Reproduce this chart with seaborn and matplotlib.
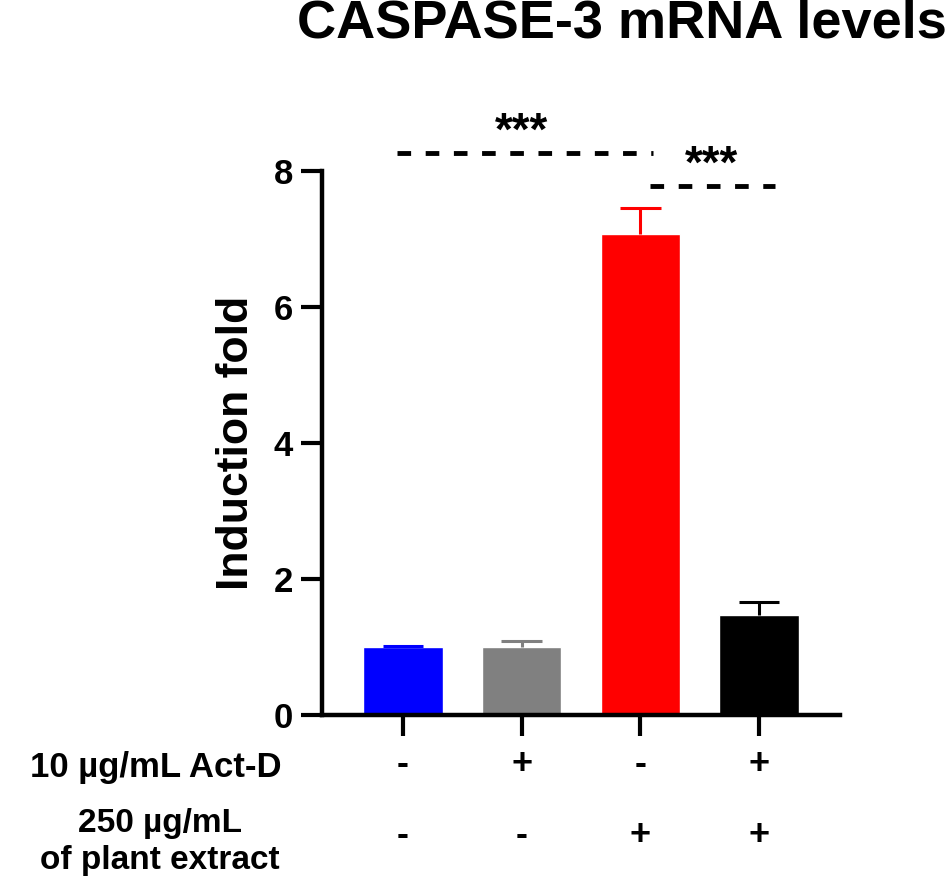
import matplotlib
matplotlib.use("Agg")
import matplotlib.pyplot as plt
import seaborn as sns
import pandas as pd

groups = ["Control", "Act-D", "Extract", "Act-D + Extract"]
means = [1.0, 1.0, 7.07, 1.47]
sems = [0.01, 0.09, 0.39, 0.19]
colors = ["#0000ff", "#808080", "#ff0000", "#000000"]
actd_row = ["-", "+", "-", "+"]
extract_row = ["-", "-", "+", "+"]
sig_pairs = [(0, 2, 8.26), (2, 3, 7.78)]
sig_labels = ["***", "***"]
yticks = [0, 2, 4, 6, 8]

sns.set_theme(style="ticks")
plt.rcParams['font.family'] = ['Liberation Sans', 'DejaVu Sans']
plt.rcParams['text.color'] = 'black'
plt.rcParams['axes.labelcolor'] = 'black'
plt.rcParams['xtick.color'] = 'black'
plt.rcParams['ytick.color'] = 'black'

df = pd.DataFrame({"group": groups, "mean": means})

fig = plt.figure(figsize=(9.48, 8.82), dpi=100)
ax = fig.add_axes([0.3397, 0.1893, 0.886 - 0.3397, 0.806 - 0.1893])

sns.barplot(data=df, x="group", y="mean", hue="group", palette=colors,
            legend=False, width=0.67, ax=ax, errorbar=None, saturation=1)

for i, (m, s, c) in enumerate(zip(means, sems, colors)):
    ax.vlines(i, m, m + s, color=c, lw=2.2, zorder=1)
    ax.hlines(m + s, i - 0.17, i + 0.17, color=c, lw=2.2, zorder=1)

ax.set_xlim(-0.68, 3.68)
ax.set_ylim(0, 8)
ax.set_yticks(yticks)
ax.set_yticklabels([str(t) for t in yticks], fontsize=25, fontweight="bold")
ax.set_xticks(range(len(groups)))
ax.set_xticklabels([""] * len(groups))
ax.set_xlabel("")
ax.set_ylabel("Induction fold", fontsize=32, fontweight="bold", labelpad=12)
ax.tick_params(axis="both", width=3, length=15, color="black", pad=6)
for side in ["left", "bottom"]:
    ax.spines[side].set_linewidth(3.2)
    ax.spines[side].set_color("black")
sns.despine(ax=ax)

offsets = [(-0.05, 0.11), (0.08, 0.13)]
for (a, b, y), lab, (lo, hi) in zip(sig_pairs, sig_labels, offsets):
    ax.plot([a + lo, b + hi], [y, y], color="black", lw=3.5,
            linestyle=(0, (2.8, 3.0)), clip_on=False)
    ax.text((a + b) / 2 + (0.1 if a == 2 else 0), y - 0.02, lab,
            ha="center", va="bottom", fontsize=33, fontweight="bold",
            clip_on=False)

for i, (s1, s2) in enumerate(zip(actd_row, extract_row)):
    ax.text(i, -0.73, s1, ha="center", va="center", fontsize=26,
            fontweight="bold", clip_on=False)
    ax.text(i, -1.77, s2, ha="center", va="center", fontsize=26,
            fontweight="bold", clip_on=False)

fig.text(282 / 948, 1 - 768 / 882, "10 µg/mL Act-D", ha="right", va="center",
         fontsize=25, fontweight="bold")
fig.text(160 / 948, 1 - 842 / 882, "250 µg/mL\nof plant extract", ha="center",
         va="center", fontsize=24, fontweight="bold", linespacing=1.25)

fig.text(622 / 948, 1 - 24 / 882, "CASPASE-3 mRNA levels", ha="center",
         va="center", fontsize=39, fontweight="bold")

fig.savefig("out.png", dpi=100)
